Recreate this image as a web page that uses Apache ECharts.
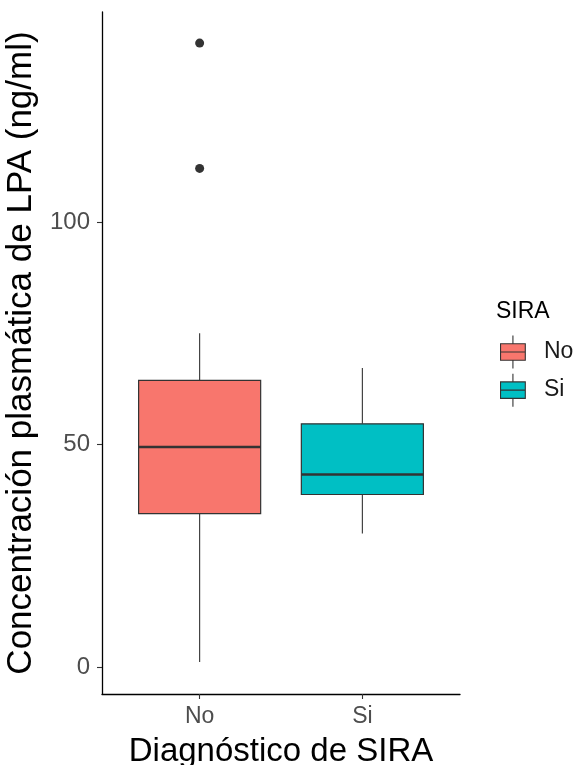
<!DOCTYPE html>
<html>
<head>
<meta charset="utf-8">
<script src="https://cdn.jsdelivr.net/npm/echarts@6/dist/echarts.min.js"></script>
<style>
html,body{margin:0;padding:0;background:#fff;}
#chart{width:579px;height:765px;}
</style>
</head>
<body>
<div id="chart"></div>
<script>
// ---- data ----
const categories = ['No', 'Si'];
const lowWhisker = [1.1, 30.0];
const q1 = [34.5, 38.8];
const median = [49.5, 43.3];
const q3 = [64.5, 54.7];
const highWhisker = [75.1, 67.3];
const outlierCategory = ['No', 'No'];
const outlierValue = [140.4, 112.2];
const yTicks = [0, 50, 100];
const boxColors = ['#F8766D', '#00BFC4'];

const FONT = 'Liberation Sans, Arial, sans-serif';
const BOX_WIDTH = 0.75;

function renderBox(params, api) {
  const x = api.value(0);
  const pLow = api.coord([x, api.value(1)]);
  const pQ1 = api.coord([x, api.value(2)]);
  const pMed = api.coord([x, api.value(3)]);
  const pQ3 = api.coord([x, api.value(4)]);
  const pHigh = api.coord([x, api.value(5)]);
  const half = api.size([BOX_WIDTH, 0])[0] / 2;
  const cx = pMed[0];
  const lineStyle = { stroke: '#333333', lineWidth: 1.1 };
  return {
    type: 'group',
    children: [
      { type: 'line', shape: { x1: cx, y1: pHigh[1], x2: cx, y2: pQ3[1] }, style: lineStyle },
      { type: 'line', shape: { x1: cx, y1: pQ1[1], x2: cx, y2: pLow[1] }, style: lineStyle },
      { type: 'rect', shape: { x: cx - half, y: pQ3[1], width: half * 2, height: pQ1[1] - pQ3[1] },
        style: { fill: api.visual('color'), stroke: '#333333', lineWidth: 1.2 } },
      { type: 'line', shape: { x1: cx - half, y1: pMed[1], x2: cx + half, y2: pMed[1] },
        style: { stroke: '#333333', lineWidth: 2.6 } }
    ]
  };
}

const boxSeries = categories.map((c, i) => ({
  name: c,
  type: 'custom',
  renderItem: renderBox,
  itemStyle: { color: boxColors[i] },
  encode: { x: 0, y: [1, 2, 3, 4, 5] },
  data: [[i + 1, lowWhisker[i], q1[i], median[i], q3[i], highWhisker[i]]],
  z: 2
}));

const outlierSeries = {
  name: 'outliers',
  type: 'scatter',
  symbolSize: 9,
  itemStyle: { color: '#333333', opacity: 1 },
  data: outlierValue.map((v, i) => [categories.indexOf(outlierCategory[i]) + 1, v]),
  z: 3
};

const chart = echarts.init(document.getElementById('chart'), null, { renderer: 'canvas' });
chart.setOption({
  animation: false,
  backgroundColor: '#ffffff',
  textStyle: { fontFamily: FONT },
  title: {
    text: 'SIRA', left: 496, top: 300, padding: 0,
    textStyle: { fontSize: 23, fontWeight: 'normal', color: '#000000', fontFamily: FONT }
  },
  legend: {
    data: categories,
    orient: 'vertical',
    left: 500, top: 335, padding: 0,
    itemWidth: 30, itemHeight: 33, itemGap: 4,
    icon: 'path://M0,10 L30,10 L30,30 L0,30 Z M0,20 L30,20 M15,0 L15,10 M15,30 L15,40',
    itemStyle: { borderColor: '#333333', borderWidth: 1.1 },
    textStyle: { fontSize: 23, color: '#1a1a1a', fontFamily: FONT, padding: [0, 0, 0, 11] }
  },
  grid: { left: 102, right: 119, top: 12, bottom: 71, containLabel: false, outerBoundsMode: 'none' },
  xAxis: {
    type: 'value', min: 0.4, max: 2.6,
    axisLine: { onZero: false, lineStyle: { color: '#000000', width: 1.3 } },
    axisTick: { customValues: [1, 2], length: 5, lineStyle: { color: '#333333', width: 1.1 } },
    axisLabel: {
      customValues: [1, 2],
      formatter: v => categories[Math.round(v) - 1],
      fontSize: 23, color: '#4d4d4d', margin: 11, fontFamily: FONT
    },
    splitLine: { show: false },
    name: 'Diagnóstico de SIRA', nameLocation: 'middle', nameGap: 41,
    nameTextStyle: { fontSize: 33, color: '#000000', fontFamily: FONT }
  },
  yAxis: {
    type: 'value', min: -6.1, max: 147.4,
    axisLine: { show: true, onZero: false, lineStyle: { color: '#000000', width: 1.3 } },
    axisTick: { show: true, customValues: yTicks, length: 5, lineStyle: { color: '#333333', width: 1.1 } },
    axisLabel: { customValues: yTicks, fontSize: 24, color: '#4d4d4d', margin: 12, fontFamily: FONT },
    splitLine: { show: false },
    name: 'Concentración plasmática de LPA (ng/ml)', nameLocation: 'middle', nameGap: 55,
    nameTextStyle: { fontSize: 35, color: '#000000', fontFamily: FONT }
  },
  series: [...boxSeries, outlierSeries]
});
</script>
</body>
</html>
